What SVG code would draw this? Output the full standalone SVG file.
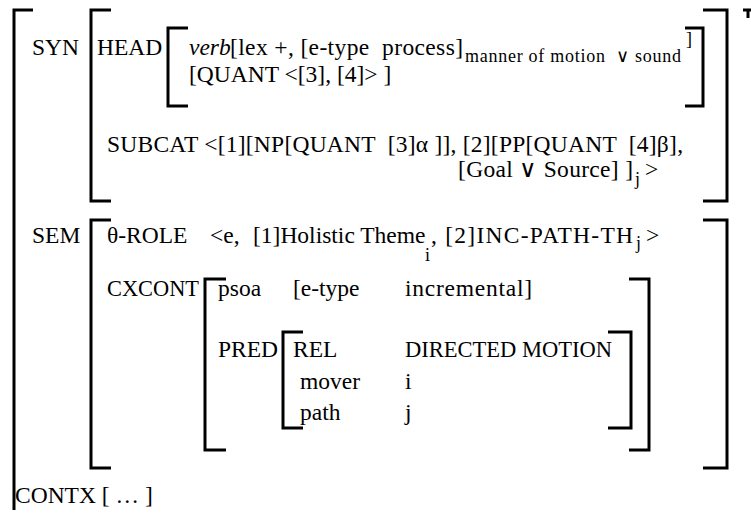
<svg xmlns="http://www.w3.org/2000/svg" width="751" height="521" viewBox="0 0 751 521">
<style>
text{font-family:"Liberation Serif","Times New Roman",serif;font-size:23.5px;fill:#000;white-space:pre}
.s{font-size:18px}
.it{font-style:italic}
.br{fill:none;stroke:#000;stroke-width:3}
</style>
<rect width="751" height="521" fill="#fff"/>
<g id="brackets">
<path class="br" d="M33,10H14V510"/>
<path class="br" d="M743,10H751M748,10V18"/>
<path class="br" d="M111,10H91V201H111"/>
<path class="br" d="M703,10H727V201H703"/>
<path class="br" d="M188,28H168V106H188"/>
<path class="br" d="M685,28H703V106H685"/>
<path class="br" d="M111,220H91V468H111"/>
<path class="br" d="M703,220H727V468H703"/>
<path class="br" d="M226,279H205V450H226"/>
<path class="br" d="M629,279H649V450H629"/>
<path class="br" d="M303,332H283V428H303"/>
<path class="br" d="M608,332H631V428H608"/>
</g>
<g id="syn">
<text x="32" y="55">SYN</text>
<text x="97" y="55">HEAD</text>
<text x="189" y="55" class="it">verb</text>
<text x="230" y="55" textLength="233" lengthAdjust="spacing">[lex +, [e-type  process]</text>
<text x="465" y="62" class="s" textLength="216" lengthAdjust="spacing">manner of motion  ∨ sound</text>
<text x="686" y="45" class="s">]</text>
<text x="189" y="82">[QUANT &lt;[3], [4]&gt; ]</text>
<text x="107" y="152" textLength="576" lengthAdjust="spacing">SUBCAT &lt;[1][NP[QUANT  [3]α ]], [2][PP[QUANT  [4]β],</text>
<text x="458" y="177" textLength="175" lengthAdjust="spacing">[Goal ∨ Source] ]</text>
<text x="635" y="185" class="s">j</text>
<text x="645" y="177">&gt;</text>
</g>
<g id="sem">
<text x="32" y="243">SEM</text>
<text x="107" y="243">θ-ROLE</text>
<text x="210" y="243">&lt;e,</text>
<text x="253" y="243">[1]Holistic Theme</text>
<text x="425" y="261" class="s">i</text>
<text x="431" y="243" textLength="202" lengthAdjust="spacing">, [2]INC-PATH-TH</text>
<text x="636" y="249" class="s">j</text>
<text x="646" y="243">&gt;</text>
<text x="107" y="296" textLength="92" lengthAdjust="spacingAndGlyphs">CXCONT</text>
<text x="218" y="296">psoa</text>
<text x="293" y="296">[e-type</text>
<text x="405" y="296" textLength="127" lengthAdjust="spacing">incremental]</text>
<text x="218" y="357">PRED</text>
<text x="293" y="357">REL</text>
<text x="405" y="357" textLength="207" lengthAdjust="spacingAndGlyphs">DIRECTED MOTION</text>
<text x="300" y="389">mover</text>
<text x="405" y="389">i</text>
<text x="300" y="420">path</text>
<text x="405" y="420">j</text>
</g>
<g id="contx">
<text x="15" y="503">CONTX [ … ]</text>
</g>
</svg>
